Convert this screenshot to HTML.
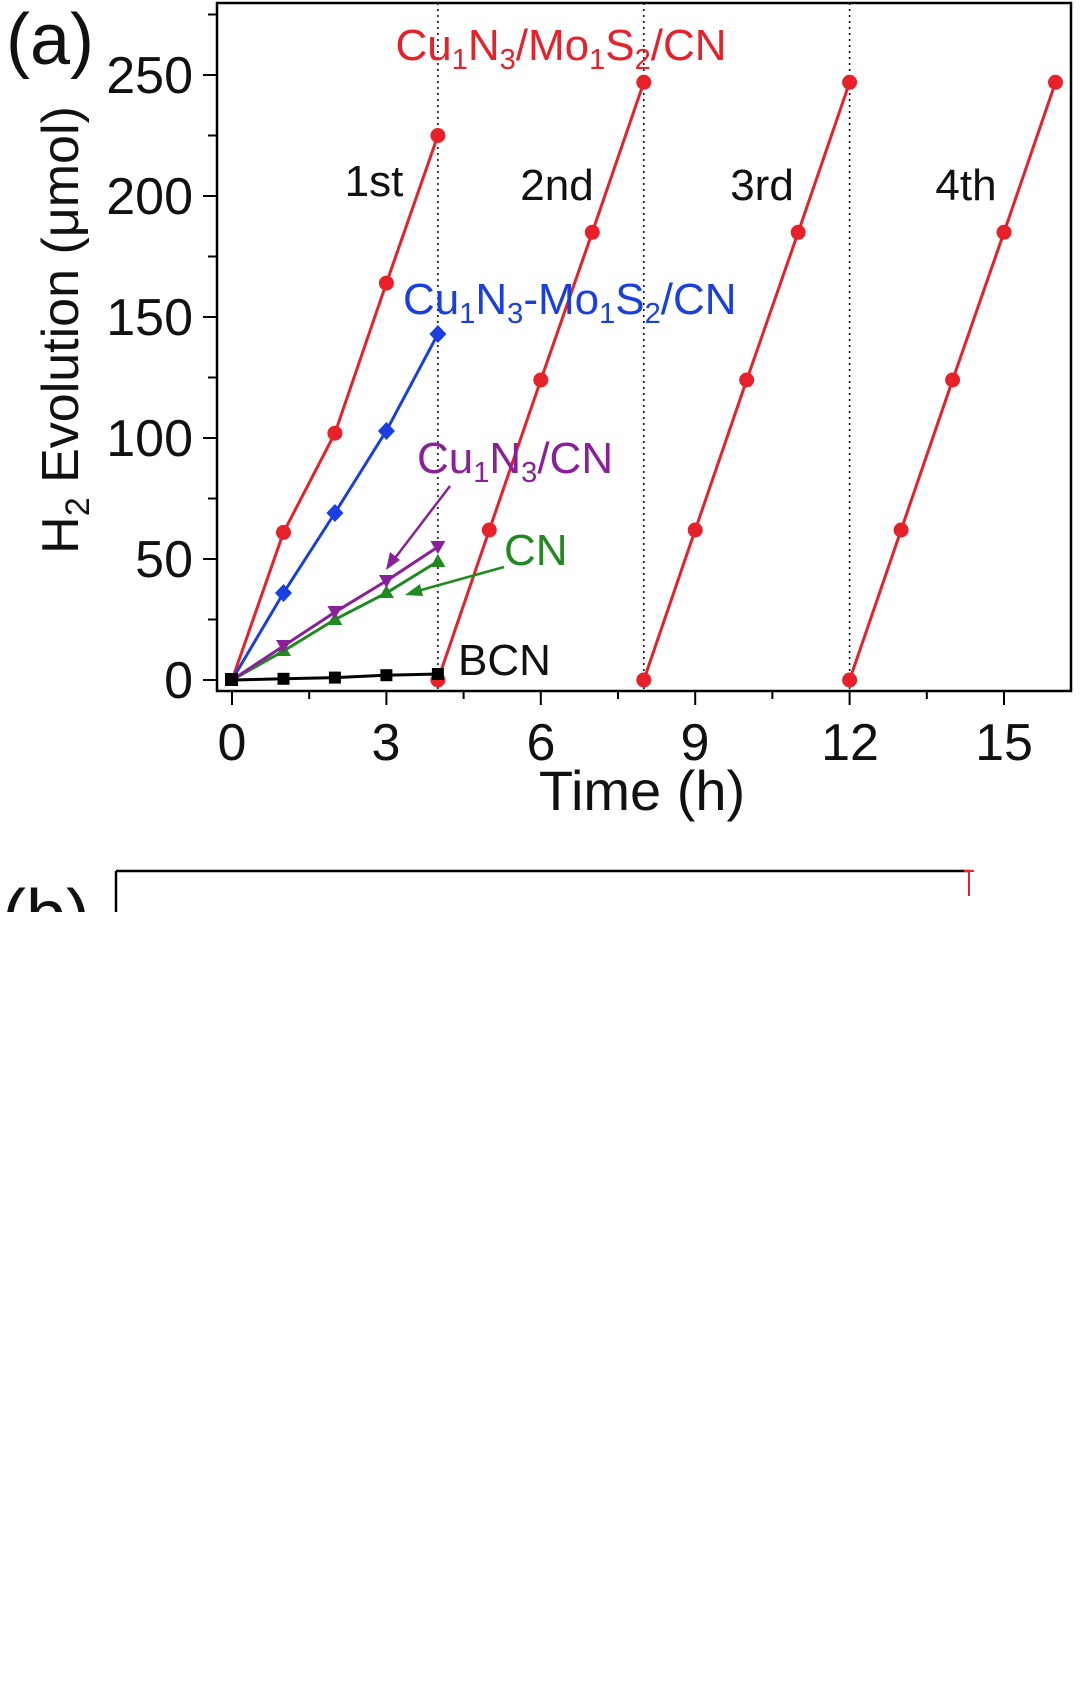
<!DOCTYPE html>
<html><head><meta charset="utf-8"><style>
html,body{margin:0;padding:0;background:#fff}
svg{display:block}
text{font-family:"Liberation Sans",sans-serif}
</style></head><body>
<svg width="1080" height="1686" viewBox="0 0 1080 1686" xmlns="http://www.w3.org/2000/svg">
<rect width="1080" height="1686" fill="#fff"/>
<rect x="217" y="3" width="854" height="688" fill="none" stroke="#000" stroke-width="2.5"/>
<g stroke="#000" stroke-width="2">
<line x1="203" y1="680" x2="217" y2="680"/><line x1="203" y1="559" x2="217" y2="559"/>
<line x1="203" y1="438" x2="217" y2="438"/><line x1="203" y1="317" x2="217" y2="317"/>
<line x1="203" y1="196" x2="217" y2="196"/><line x1="203" y1="75" x2="217" y2="75"/>
<line x1="208" y1="619.5" x2="217" y2="619.5"/><line x1="208" y1="498.5" x2="217" y2="498.5"/>
<line x1="208" y1="377.5" x2="217" y2="377.5"/><line x1="208" y1="256.5" x2="217" y2="256.5"/>
<line x1="208" y1="135.5" x2="217" y2="135.5"/><line x1="208" y1="14.5" x2="217" y2="14.5"/>
</g>
<g stroke="#000" stroke-width="2">
<line x1="232" y1="691" x2="232" y2="705"/><line x1="386.4" y1="691" x2="386.4" y2="705"/>
<line x1="540.8" y1="691" x2="540.8" y2="705"/><line x1="695.2" y1="691" x2="695.2" y2="705"/>
<line x1="849.6" y1="691" x2="849.6" y2="705"/><line x1="1004" y1="691" x2="1004" y2="705"/>
<line x1="309.2" y1="691" x2="309.2" y2="699"/><line x1="463.6" y1="691" x2="463.6" y2="699"/>
<line x1="618" y1="691" x2="618" y2="699"/><line x1="772.4" y1="691" x2="772.4" y2="699"/>
<line x1="926.8" y1="691" x2="926.8" y2="699"/>
</g>
<g font-size="52" text-anchor="end" fill="#111">
<text x="193" y="698">0</text><text x="193" y="577">50</text><text x="193" y="456">100</text>
<text x="193" y="335">150</text><text x="193" y="214">200</text><text x="193" y="93">250</text>
</g>
<g font-size="52" text-anchor="middle" fill="#111">
<text x="232" y="760">0</text><text x="386" y="760">3</text><text x="541" y="760">6</text>
<text x="695" y="760">9</text><text x="850" y="760">12</text><text x="1004" y="760">15</text>
</g>
<text x="642" y="810" font-size="56" text-anchor="middle" fill="#111">Time (h)</text>
<text transform="translate(78,330) rotate(-90)" font-size="52" text-anchor="middle" fill="#111">H<tspan font-size="34" dy="11">2</tspan><tspan dy="-11"> Evolution (μmol)</tspan></text>
<text x="6" y="64" font-size="72" fill="#111">(a)</text>
<g stroke="#000" stroke-width="1.5" stroke-dasharray="2,4">
<line x1="437.9" y1="3" x2="437.9" y2="691"/><line x1="643.8" y1="3" x2="643.8" y2="691"/><line x1="849.6" y1="3" x2="849.6" y2="691"/>
</g>
<g stroke="#e8202a" stroke-width="3" fill="none">
<polyline points="232,680 283.5,532.4 334.9,433.2 386.4,283.1 437.9,135.5"/>
<polyline points="437.9,680 489.3,530 540.8,380 592.3,232.3 643.8,82.3"/>
<polyline points="643.8,680 695.2,530 746.7,380 798.2,232.3 849.6,82.3"/>
<polyline points="849.6,680 901.1,530 952.6,380 1004,232.3 1055.5,82.3"/>
</g>
<g fill="#e8202a">
<circle cx="283.5" cy="532.4" r="7.5"/><circle cx="334.9" cy="433.2" r="7.5"/><circle cx="386.4" cy="283.1" r="7.5"/><circle cx="437.9" cy="135.5" r="7.5"/>
<circle cx="437.9" cy="680" r="7.5"/><circle cx="489.3" cy="530" r="7.5"/><circle cx="540.8" cy="380" r="7.5"/><circle cx="592.3" cy="232.3" r="7.5"/><circle cx="643.8" cy="82.3" r="7.5"/>
<circle cx="643.8" cy="680" r="7.5"/><circle cx="695.2" cy="530" r="7.5"/><circle cx="746.7" cy="380" r="7.5"/><circle cx="798.2" cy="232.3" r="7.5"/><circle cx="849.6" cy="82.3" r="7.5"/>
<circle cx="849.6" cy="680" r="7.5"/><circle cx="901.1" cy="530" r="7.5"/><circle cx="952.6" cy="380" r="7.5"/><circle cx="1004" cy="232.3" r="7.5"/><circle cx="1055.5" cy="82.3" r="7.5"/>
</g>
<polyline points="232,680 283.5,592.9 334.9,513 386.4,430.7 437.9,334" stroke="#1a3fe0" stroke-width="3" fill="none"/>
<g fill="#1a3fe0">
<polygon points="283.5,584 292,593 283.5,602 275,593"/><polygon points="334.9,504 343.4,513 334.9,522 326.4,513"/>
<polygon points="386.4,422 394.9,431 386.4,440 377.9,431"/><polygon points="437.9,325 446.4,334 437.9,343 429.4,334"/>
</g>
<polyline points="232,680 283.5,651 334.9,619.5 386.4,592.9 437.9,561.4" stroke="#1f8a1f" stroke-width="3" fill="none"/>
<g fill="#1f8a1f">
<polygon points="283.5,643 291,656 276,656"/><polygon points="334.9,612 342.4,625 327.4,625"/>
<polygon points="386.4,585 393.9,598 378.9,598"/><polygon points="437.9,554 445.4,567 430.4,567"/>
</g>
<polyline points="232,680 283.5,646 334.9,612.2 386.4,580.8 437.9,546.9" stroke="#8a1f9a" stroke-width="3" fill="none"/>
<g fill="#8a1f9a">
<polygon points="276,640 291,640 283.5,653"/><polygon points="327.4,606 342.4,606 334.9,619"/>
<polygon points="378.9,575 393.9,575 386.4,588"/><polygon points="430.4,541 445.4,541 437.9,554"/>
</g>
<polyline points="232,680 283.5,678.8 334.9,677.6 386.4,675.2 437.9,674" stroke="#000" stroke-width="3" fill="none"/>
<g fill="#000">
<rect x="225" y="673" width="13" height="13"/><rect x="277.5" y="672.8" width="12" height="12"/>
<rect x="328.9" y="671.6" width="12" height="12"/><rect x="380.4" y="669.2" width="12" height="12"/><rect x="431.9" y="668" width="12" height="12"/>
</g>
<line x1="450" y1="486" x2="392" y2="562" stroke="#8a1f9a" stroke-width="2.5"/>
<polygon points="386,570 390,552 400,560" fill="#8a1f9a"/>
<line x1="504" y1="567" x2="414" y2="592" stroke="#1f8a1f" stroke-width="2.5"/>
<polygon points="405,595 420,584 423,596" fill="#1f8a1f"/>
<text x="561" y="60" font-size="44" text-anchor="middle" fill="#e8202a">Cu<tspan font-size="29" dy="9">1</tspan><tspan dy="-9">N</tspan><tspan font-size="29" dy="9">3</tspan><tspan dy="-9">/Mo</tspan><tspan font-size="29" dy="9">1</tspan><tspan dy="-9">S</tspan><tspan font-size="29" dy="9">2</tspan><tspan dy="-9">/CN</tspan></text>
<g font-size="44" fill="#111" text-anchor="middle">
<text x="374" y="196">1st</text><text x="557" y="200">2nd</text><text x="762" y="200">3rd</text><text x="966" y="200">4th</text>
</g>
<text x="403" y="314" font-size="44" fill="#1a3fe0">Cu<tspan font-size="29" dy="9">1</tspan><tspan dy="-9">N</tspan><tspan font-size="29" dy="9">3</tspan><tspan dy="-9">-Mo</tspan><tspan font-size="29" dy="9">1</tspan><tspan dy="-9">S</tspan><tspan font-size="29" dy="9">2</tspan><tspan dy="-9">/CN</tspan></text>
<text x="417" y="473" font-size="44" fill="#8a1f9a">Cu<tspan font-size="29" dy="9">1</tspan><tspan dy="-9">N</tspan><tspan font-size="29" dy="9">3</tspan><tspan dy="-9">/CN</tspan></text>
<text x="504" y="565" font-size="44" fill="#1f8a1f">CN</text>
<text x="458" y="675" font-size="44" fill="#111">BCN</text>
<line x1="116" y1="871" x2="970" y2="871" stroke="#000" stroke-width="2.5"/>
<line x1="116" y1="871" x2="116" y2="912" stroke="#000" stroke-width="2.5"/>
<line x1="969" y1="871" x2="969" y2="896" stroke="#e8202a" stroke-width="2"/>
<line x1="964" y1="871" x2="974" y2="871" stroke="#e8202a" stroke-width="2"/>
<text x="2" y="940" font-size="72" fill="#111">(b)</text>
<rect x="0" y="912" width="1080" height="774" fill="#fff"/>
</svg>
</body></html>
